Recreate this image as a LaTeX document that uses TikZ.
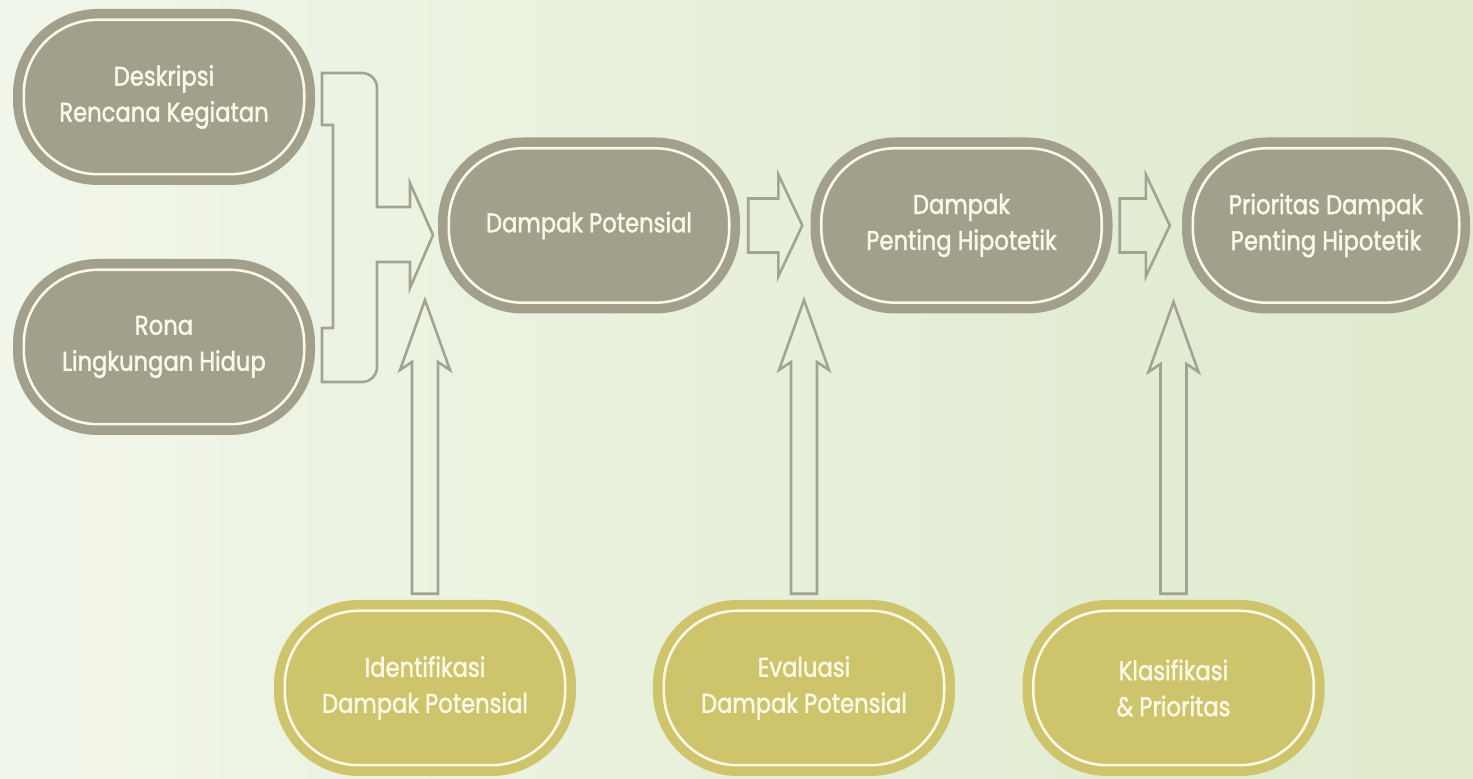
\documentclass[tikz,border=0pt]{standalone}
\usepackage{fontspec}
\setmainfont{Poppins}[FakeStretch=0.84, FakeBold=1.6]
\usetikzlibrary{calc}

\definecolor{bgleft}{HTML}{F1F6EA}
\definecolor{bgright}{HTML}{DFEACC}
\definecolor{boxgrey}{HTML}{A29F8B}
\definecolor{boxgold}{HTML}{CEC46C}
\definecolor{cream}{HTML}{FBF8E6}
\definecolor{arrowgrey}{HTML}{A3A392}

\tikzset{
  stadium/.style={rectangle, rounded corners=85pt, minimum width=302pt,
    minimum height=176pt, inner sep=0pt, align=center, text=cream,
    font=\fontsize{27}{36}\selectfont},
  greybox/.style={stadium, fill=boxgrey},
  goldbox/.style={stadium, fill=boxgold},
  ring/.style={draw=cream, line width=2.6pt, rounded corners=74pt},
  hollow/.style={draw=arrowgrey, line width=2.6pt, line join=miter},
}

% inner cream outline of a box
\newcommand\ringof[1]{%
  \draw[ring] ($(#1.south west)+(11,11)$) rectangle ($(#1.north east)+(-11,-11)$);}

% hollow block arrow pointing right, from a shaft start to a tip
\newcommand\hollowright[2]{%
  \draw[hollow] let \p1=(#1), \p2=(#2) in
    (\x1,\y2-27pt) -- (\x2-24pt,\y2-27pt) -- (\x2-24pt,\y2-51pt) -- (\x2,\y2)
    -- (\x2-24pt,\y2+51pt) -- (\x2-24pt,\y2+27pt) -- (\x1,\y2+27pt) -- cycle;}

% hollow block arrow pointing up, from a shaft foot to a tip
\newcommand\hollowup[2]{%
  \draw[hollow] let \p1=(#1), \p2=(#2) in
    (\x2-13pt,\y1) -- (\x2-13pt,\y2-62pt) -- (\x2-25pt,\y2-70pt) -- (\x2,\y2)
    -- (\x2+25pt,\y2-70pt) -- (\x2+13pt,\y2-62pt) -- (\x2+13pt,\y1) -- cycle;}

\begin{document}
\begin{tikzpicture}[x=1pt,y=1pt]
  \useasboundingbox (0,0) rectangle (1473,779);
  \shade[left color=bgleft, right color=bgright] (0,0) rectangle (1473,779);

  % upper row
  \node[greybox] (desk) at (164,682) {Deskripsi\\Rencana Kegiatan};
  \node[greybox] (rona) at (164,432) {Rona\\Lingkungan Hidup};
  \node[greybox] (dp)   at (589,553.5) {Dampak Potensial};
  \node[greybox] (dph)  at (961.5,553.5) {Dampak\\Penting Hipotetik};
  \node[greybox, minimum width=288pt] (pdph) at (1326,553.5) {Prioritas Dampak\\Penting Hipotetik};

  % lower row
  \node[goldbox] (idp) at (425,91) {Identifikasi\\Dampak Potensial};
  \node[goldbox] (edp) at (804,91) {Evaluasi\\Dampak Potensial};
  \node[goldbox] (kp)  at (1173.5,91) {Klasifikasi\\\& Prioritas};

  \foreach \n in {desk,rona,dp,dph,pdph,idp,edp,kp} {\ringof{\n}}

  % merging bracket from the two inputs into Dampak Potensial
  \coordinate (mergetip) at (433,544);
  \draw[hollow]
    (322,706) -- (362,706) arc[start angle=90, end angle=0, radius=15]
    -- (377,572) -- (410,572) -- (410,596) -- (mergetip)
    -- (410,491) -- (410,517) -- (377,517)
    -- (377,412) arc[start angle=0, end angle=-90, radius=15]
    -- (322,397) -- (322,451) -- (333,451) -- (333,654) -- (322,654) -- cycle;

  % flow along the upper row
  \coordinate (a1s) at ($(dp.east)+(8,0)$);
  \coordinate (a1t) at ($(dph.west)+(-8,0)$);
  \hollowright{a1s}{a1t}
  \coordinate (a2s) at ($(dph.east)+(7,0)$);
  \coordinate (a2t) at ($(pdph.west)+(-12,0)$);
  \hollowright{a2s}{a2t}

  % method arrows from the lower row
  \coordinate (u1t) at (idp.north |- 0,479);
  \hollowup{$(idp.north)+(0,6)$}{u1t}
  \coordinate (u2t) at (edp.north |- 0,479);
  \hollowup{$(edp.north)+(0,6)$}{u2t}
  \coordinate (u3t) at (kp.north |- 0,477);
  \hollowup{$(kp.north)+(0,6)$}{u3t}
\end{tikzpicture}
\end{document}
